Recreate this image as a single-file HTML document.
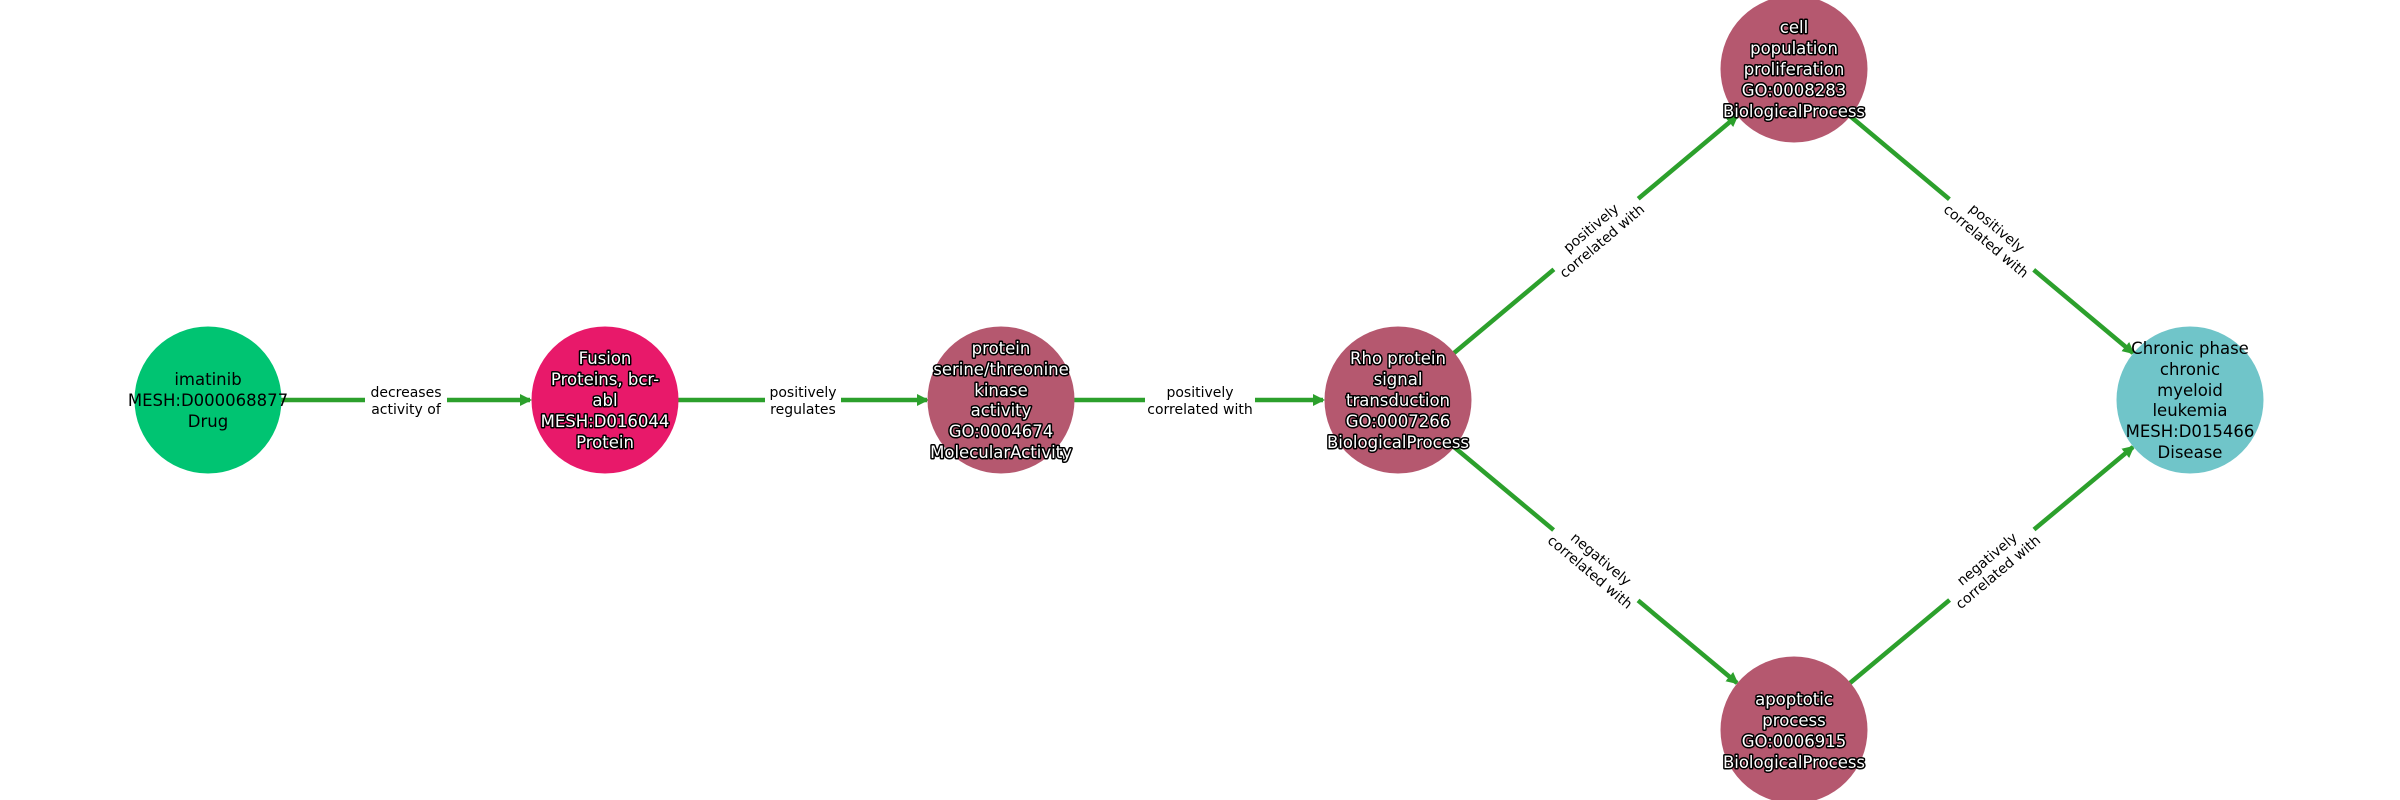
<!DOCTYPE html>
<html><head><meta charset="utf-8"><style>
html,body{margin:0;padding:0;background:#fff;}
svg{display:block;}
.n{font-family:"DejaVu Sans","Liberation Sans",sans-serif;font-size:16.5px;text-anchor:middle;}
.w{fill:#fff;stroke:#000;stroke-width:3px;paint-order:stroke;stroke-linejoin:round;}
.b{fill:#000;}
.e{font-family:"DejaVu Sans","Liberation Sans",sans-serif;font-size:14px;text-anchor:middle;fill:#000;}
.l{stroke:#2ca02c;stroke-width:4.5;fill:none;}
</style></head><body>
<svg width="2400" height="800" viewBox="0 0 2400 800" xmlns="http://www.w3.org/2000/svg">
<defs><marker id="a" markerWidth="12" markerHeight="12" refX="10" refY="6" orient="auto" markerUnits="userSpaceOnUse"><path d="M0,0 L12,6 L0,12 z" fill="#2ca02c"/></marker></defs>
<line class="l" x1="281" y1="400" x2="530" y2="400" marker-end="url(#a)"/>
<line class="l" x1="678" y1="400" x2="927" y2="400" marker-end="url(#a)"/>
<line class="l" x1="1074" y1="400" x2="1323" y2="400" marker-end="url(#a)"/>
<line class="l" x1="1454" y1="353" x2="1737" y2="116" marker-end="url(#a)"/>
<line class="l" x1="1850" y1="116" x2="2133" y2="353" marker-end="url(#a)"/>
<line class="l" x1="1454" y1="447" x2="1737" y2="683" marker-end="url(#a)"/>
<line class="l" x1="1850" y1="683" x2="2133" y2="447" marker-end="url(#a)"/>
<g>
<rect x="365" y="380" width="82" height="40" fill="#fff"/><text class="e" x="406" y="397">decreases</text><text class="e" x="406" y="414">activity of</text>
<rect x="765" y="380" width="76" height="40" fill="#fff"/><text class="e" x="803" y="397">positively</text><text class="e" x="803" y="414">regulates</text>
<rect x="1145" y="380" width="110" height="40" fill="#fff"/><text class="e" x="1200" y="397">positively</text><text class="e" x="1200" y="414">correlated with</text>
<g transform="translate(1596,234) rotate(-40)"><rect x="-55" y="-20" width="110" height="40" fill="#fff"/><text class="e" x="0" y="-3">positively</text><text class="e" x="0" y="14">correlated with</text></g>
<g transform="translate(1992,234) rotate(40)"><rect x="-55" y="-20" width="110" height="40" fill="#fff"/><text class="e" x="0" y="-3">positively</text><text class="e" x="0" y="14">correlated with</text></g>
<g transform="translate(1596,565) rotate(40)"><rect x="-55" y="-20" width="110" height="40" fill="#fff"/><text class="e" x="0" y="-3">negatively</text><text class="e" x="0" y="14">correlated with</text></g>
<g transform="translate(1992,565) rotate(-40)"><rect x="-55" y="-20" width="110" height="40" fill="#fff"/><text class="e" x="0" y="-3">negatively</text><text class="e" x="0" y="14">correlated with</text></g>
</g>
<circle cx="208" cy="400" r="73.5" fill="#00c472"/>
<circle cx="605" cy="400" r="73.5" fill="#e8196a"/>
<circle cx="1001" cy="400" r="73.5" fill="#b5586f"/>
<circle cx="1398" cy="400" r="73.5" fill="#b5586f"/>
<circle cx="1794" cy="69" r="73.5" fill="#b5586f"/>
<circle cx="1794" cy="730" r="73.5" fill="#b5586f"/>
<circle cx="2190" cy="400" r="73.5" fill="#70c5c9"/>
<text class="n b" x="208" y="385">imatinib</text><text class="n b" x="208" y="406">MESH:D000068877</text><text class="n b" x="208" y="427">Drug</text>
<text class="n w" x="605" y="364">Fusion</text><text class="n w" x="605" y="385">Proteins, bcr-</text><text class="n w" x="605" y="406">abl</text><text class="n w" x="605" y="427">MESH:D016044</text><text class="n w" x="605" y="448">Protein</text>
<text class="n w" x="1001" y="354">protein</text><text class="n w" x="1001" y="375">serine/threonine</text><text class="n w" x="1001" y="396">kinase</text><text class="n w" x="1001" y="416">activity</text><text class="n w" x="1001" y="437">GO:0004674</text><text class="n w" x="1001" y="458">MolecularActivity</text>
<text class="n w" x="1398" y="364">Rho protein</text><text class="n w" x="1398" y="385">signal</text><text class="n w" x="1398" y="406">transduction</text><text class="n w" x="1398" y="427">GO:0007266</text><text class="n w" x="1398" y="448">BiologicalProcess</text>
<text class="n w" x="1794" y="33">cell</text><text class="n w" x="1794" y="54">population</text><text class="n w" x="1794" y="75">proliferation</text><text class="n w" x="1794" y="96">GO:0008283</text><text class="n w" x="1794" y="117">BiologicalProcess</text>
<text class="n w" x="1794" y="705">apoptotic</text><text class="n w" x="1794" y="726">process</text><text class="n w" x="1794" y="747">GO:0006915</text><text class="n w" x="1794" y="768">BiologicalProcess</text>
<text class="n b" x="2190" y="354">Chronic phase</text><text class="n b" x="2190" y="375">chronic</text><text class="n b" x="2190" y="396">myeloid</text><text class="n b" x="2190" y="416">leukemia</text><text class="n b" x="2190" y="437">MESH:D015466</text><text class="n b" x="2190" y="458">Disease</text>
</svg>
</body></html>
